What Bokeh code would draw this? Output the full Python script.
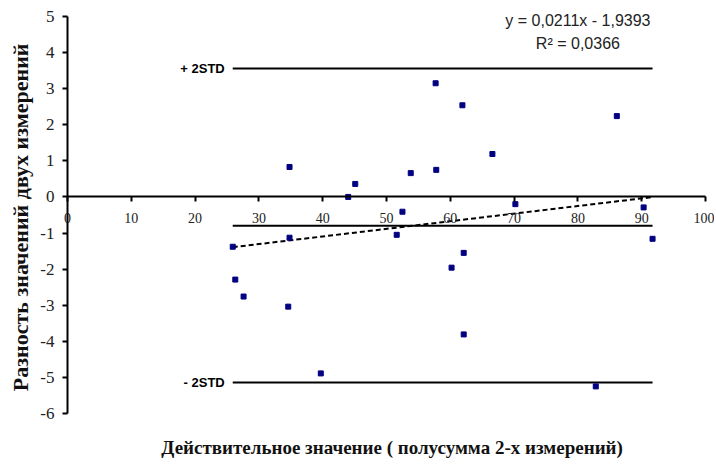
import numpy as np
from bokeh.plotting import figure
from bokeh.models import Range1d, Label, FixedTicker
from bokeh.core.properties import value
from bokeh.embed import file_html
from bokeh.resources import INLINE

# Data (Bland-Altman style plot)
x_vals = [25.9, 26.3, 27.6, 34.8, 34.8, 34.6, 39.7, 44.0, 45.1, 53.8, 57.7, 57.8,
          61.9, 66.6, 86.1, 52.5, 70.2, 90.3, 51.6, 62.1, 60.2, 62.1, 82.8, 91.7]
y_vals = [-1.38, -2.29, -2.76, 0.83, -1.13, -3.04, -4.89, 0.00, 0.36, 0.66, 3.15, 0.75,
          2.54, 1.19, 2.24, -0.41, -0.20, -0.29, -1.05, -1.55, -1.96, -3.81, -5.25, -1.16]
limit_levels = [3.56, -0.80, -5.14]
limit_labels = ["+ 2STD", "", "- 2STD"]
trend_slope = 0.0211
trend_intercept = -1.9393
equation_lines = ["y = 0,0211x - 1,9393", "R\u00b2 = 0,0366"]
x_ticks = [0, 10, 20, 30, 40, 50, 60, 70, 80, 90, 100]
y_ticks = [-6, -5, -4, -3, -2, -1, 0, 1, 2, 3, 4, 5]

x_title = "Действительное значение  ( полусумма 2-х измерений)"
y_title = "Разность значений  двух измерений"

# The frame spans the whole figure; axes are drawn at fixed positions inside it
p = figure(frame_width=714, frame_height=464,
           x_range=Range1d(-10.5, 101.41), y_range=Range1d(-7.414, 5.443),
           output_backend="svg", toolbar_location=None, min_border=0)
p.grid.visible = False
p.outline_line_color = None

xa = p.xaxis[0]
xa.fixed_location = 0
xa.bounds = (x_ticks[0], x_ticks[-1])
xa.ticker = FixedTicker(ticks=x_ticks)
xa.minor_tick_line_color = None
xa.axis_line_width = 2
xa.major_tick_line_width = 2
xa.major_tick_in = 0
xa.major_tick_out = 5
xa.major_label_standoff = 11
xa.major_label_text_font = "Liberation Serif"
xa.major_label_text_font_size = "14px"
xa.major_label_text_color = "#222222"

ya = p.yaxis[0]
ya.fixed_location = 0
ya.bounds = (y_ticks[0], y_ticks[-1])
ya.ticker = FixedTicker(ticks=y_ticks)
ya.major_label_overrides = {t: str(t) for t in y_ticks}
ya.minor_tick_line_color = None
ya.axis_line_width = 2
ya.major_tick_line_width = 2
ya.major_tick_in = 0
ya.major_tick_out = 5
ya.major_label_standoff = 8
ya.major_label_text_font = "Liberation Serif"
ya.major_label_text_font_size = "17px"
ya.major_label_text_color = "#222222"

xmin, xmax = min(x_vals), max(x_vals)

# reference lines (+2SD, mean, -2SD)
p.segment(x0=[xmin] * 3, x1=[xmax] * 3, y0=limit_levels, y1=limit_levels,
          line_color="black", line_width=2)
p.text(x=[xmin] * 3, y=limit_levels, text=limit_labels, x_offset=-8,
       text_align="right", text_baseline="middle",
       text_font=value("Liberation Sans"), text_font_style="bold",
       text_font_size="13px", text_color="black")

# trend line
tx = np.array([xmin, xmax])
p.line(tx, trend_slope * tx + trend_intercept, line_color="black",
       line_width=2, line_dash="5 3")

# points
p.scatter(x_vals, y_vals, marker="square", size=5, color="#000080")

# regression equation
for i, t in enumerate(equation_lines):
    p.add_layout(Label(x=80, y=4.89, y_offset=-23 * i, text=t,
                       text_align="center", text_baseline="middle",
                       text_font="Liberation Sans", text_font_size="16px",
                       text_color="#222222"))

# axis titles
p.add_layout(Label(x=51.25, y=-6.94, text=x_title,
                   text_align="center", text_baseline="middle",
                   text_font="Liberation Serif", text_font_style="bold",
                   text_font_size="19px", text_color="#111111"))
p.add_layout(Label(x=-7.37, y=-0.49, text=y_title, angle=np.pi / 2,
                   text_align="center", text_baseline="middle",
                   text_font="Liberation Serif", text_font_style="bold",
                   text_font_size="22px", text_color="#111111"))

open("out.html", "w").write(file_html(p, INLINE))
